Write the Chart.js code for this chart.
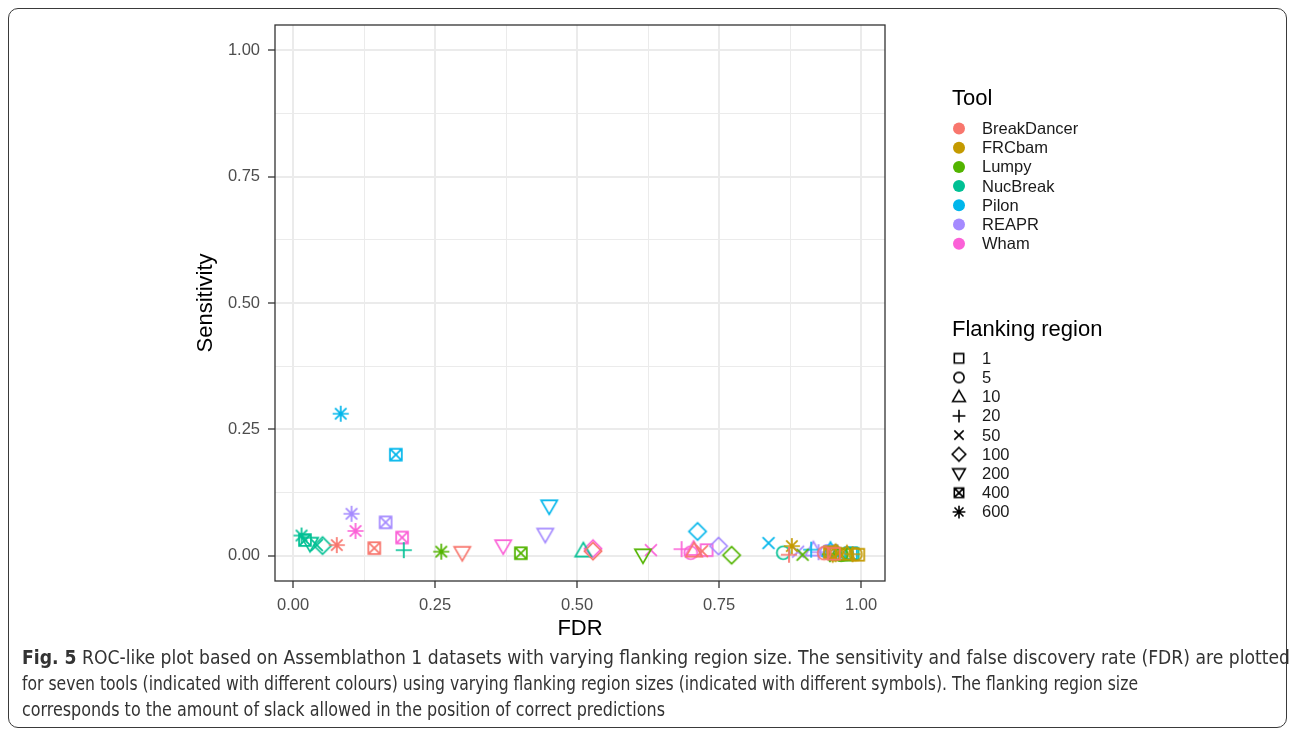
<!DOCTYPE html>
<html><head><meta charset="utf-8">
<script src="https://cdn.jsdelivr.net/npm/chart.js@4.4.1/dist/chart.umd.min.js"></script>
<style>
html,body{margin:0;padding:0;background:#fff;}
#wrap{position:relative;width:1295px;height:736px;overflow:hidden;background:#fff;}
#frame{position:absolute;left:8px;top:8px;width:1279px;height:720px;border:1.5px solid #3a3a3a;border-radius:10px;box-sizing:border-box;}
#c{position:absolute;left:0;top:0;}
.cap{position:absolute;left:22px;white-space:nowrap;font-family:"Liberation Sans Narrow","DejaVu Sans Condensed","Open Sans",sans-serif;font-size:19.5px;line-height:20px;color:#333;transform-origin:0 50%;}
.cap b{font-weight:bold;}
</style></head>
<body><div id="wrap">
<div id="frame"></div>
<canvas id="c" width="1295" height="736"></canvas>
<div class="cap" data-w="1268" style="top:648px"><b>Fig. 5</b> ROC-like plot based on Assemblathon 1 datasets with varying flanking region size. The sensitivity and false discovery rate (FDR) are plotted</div>
<div class="cap" data-w="1116" style="top:674px">for seven tools (indicated with different colours) using varying flanking region sizes (indicated with different symbols). The flanking region size</div>
<div class="cap" data-w="643" style="top:700px">corresponds to the amount of slack allowed in the position of correct predictions</div>
</div>
<script>
// ---------- data ----------
const tools = ['BreakDancer','FRCbam','Lumpy','NucBreak','Pilon','REAPR','Wham'];
const toolColors = ['#F8766D','#C49A00','#53B400','#00C094','#00B6EB','#A58AFF','#FB61D7'];
const flankSizes = ['1','5','10','20','50','100','200','400','600'];
const flankShapes = ['square','circle','triangle','plus','cross','diamond','triangleDown','squareCross','asterisk'];

const fdrBreakDancer  = [0.952, 0.935, 0.706, 0.873, 0.720, 0.528, 0.298, 0.143, 0.077];
const sensBreakDancer = [0.004, 0.005, 0.010, 0.002, 0.009, 0.009, 0.006, 0.015, 0.021];
const fdrFRCbam  = [0.995, 0.990, 0.975, 0.985, 0.960, 0.955, 0.950, 0.945, 0.878];
const sensFRCbam = [0.002, 0.003, 0.004, 0.003, 0.005, 0.006, 0.004, 0.007, 0.019];
const fdrLumpy  = [0.972, 0.965, 0.958, 0.945, 0.897, 0.772, 0.616, 0.401, 0.261];
const sensLumpy = [0.002, 0.002, 0.003, 0.003, 0.002, 0.001, 0.001, 0.005, 0.008];
const fdrNucBreak  = [0.985, 0.863, 0.511, 0.195, 0.042, 0.052, 0.030, 0.021, 0.015];
const sensNucBreak = [0.004, 0.006, 0.010, 0.011, 0.021, 0.020, 0.024, 0.031, 0.040];
const fdrPilon  = [0.982, 0.975, 0.946, 0.912, 0.837, 0.712, 0.451, 0.181, 0.084];
const sensPilon = [0.005, 0.004, 0.011, 0.012, 0.025, 0.048, 0.098, 0.200, 0.281];
const fdrREAPR  = [0.948, 0.940, 0.916, 0.925, 0.889, 0.749, 0.444, 0.163, 0.103];
const sensREAPR = [0.009, 0.008, 0.012, 0.007, 0.008, 0.019, 0.042, 0.066, 0.083];
const fdrWham  = [0.728, 0.700, 0.705, 0.684, 0.630, 0.528, 0.370, 0.192, 0.110];
const sensWham = [0.011, 0.006, 0.013, 0.013, 0.011, 0.014, 0.019, 0.036, 0.049];

const xTickValues = [0, 0.25, 0.5, 0.75, 1.0];
const xTickLabels = ['0.00','0.25','0.50','0.75','1.00'];
const yTickValues = [0, 0.25, 0.5, 0.75, 1.0];
const yTickLabels = ['0.00','0.25','0.50','0.75','1.00'];
const xTitle = 'FDR', yTitle = 'Sensitivity';
const legendTitle1 = 'Tool', legendTitle2 = 'Flanking region';

const fdrByTool = [fdrBreakDancer, fdrFRCbam, fdrLumpy, fdrNucBreak, fdrPilon, fdrREAPR, fdrWham];
const sensByTool = [sensBreakDancer, sensFRCbam, sensLumpy, sensNucBreak, sensPilon, sensREAPR, sensWham];

// ---------- symbols ----------
function makeSymbol(shape, color, k, lw) {
  const S = 28, m = S / 2;
  const c = document.createElement('canvas'); c.width = S; c.height = S;
  const g = c.getContext('2d');
  g.strokeStyle = color; g.lineWidth = lw; g.lineJoin = 'miter';
  g.beginPath();
  switch (shape) {
    case 'square': g.rect(m-5.5*k, m-5.5*k, 11*k, 11*k); break;
    case 'circle': g.arc(m, m, 6*k, 0, 2*Math.PI); break;
    case 'triangle': g.moveTo(m, m-7.5*k); g.lineTo(m+7.5*k, m+5.5*k); g.lineTo(m-7.5*k, m+5.5*k); g.closePath(); break;
    case 'plus': g.moveTo(m-7.5*k, m); g.lineTo(m+7.5*k, m); g.moveTo(m, m-7.5*k); g.lineTo(m, m+7.5*k); break;
    case 'cross': g.moveTo(m-5.5*k, m-5.5*k); g.lineTo(m+5.5*k, m+5.5*k); g.moveTo(m+5.5*k, m-5.5*k); g.lineTo(m-5.5*k, m+5.5*k); break;
    case 'diamond': g.moveTo(m, m-8*k); g.lineTo(m+8*k, m); g.lineTo(m, m+8*k); g.lineTo(m-8*k, m); g.closePath(); break;
    case 'triangleDown': g.moveTo(m-7.5*k, m-5.5*k); g.lineTo(m+7.5*k, m-5.5*k); g.lineTo(m, m+7.5*k); g.closePath(); break;
    case 'squareCross':
      g.rect(m-5.5*k, m-5.5*k, 11*k, 11*k);
      g.moveTo(m-5.5*k, m-5.5*k); g.lineTo(m+5.5*k, m+5.5*k); g.moveTo(m+5.5*k, m-5.5*k); g.lineTo(m-5.5*k, m+5.5*k); break;
    case 'asterisk':
      g.moveTo(m-7.5*k, m); g.lineTo(m+7.5*k, m); g.moveTo(m, m-7.5*k); g.lineTo(m, m+7.5*k);
      g.moveTo(m-5.3*k, m-5.3*k); g.lineTo(m+5.3*k, m+5.3*k); g.moveTo(m+5.3*k, m-5.3*k); g.lineTo(m-5.3*k, m+5.3*k); break;
  }
  g.stroke();
  return c;
}

const FONT = '"Liberation Sans", Arial, Helvetica, sans-serif';
Chart.defaults.font.family = FONT;

const datasets = tools.map((t, ti) => ({
  label: t,
  data: fdrByTool[ti].map((x, i) => ({ x: x, y: sensByTool[ti][i] })),
  pointStyle: flankShapes.map(s => makeSymbol(s, toolColors[ti], 1.08, 1.7)),
  pointRadius: 6,
  borderColor: toolColors[ti],
  backgroundColor: 'transparent',
  showLine: false
}));

const gridValues = [0, 0.125, 0.25, 0.375, 0.5, 0.625, 0.75, 0.875, 1.0];
function isMajor(v) { return Math.abs(v * 4 - Math.round(v * 4)) < 1e-9; }

const legendSymbols = flankShapes.map(s => makeSymbol(s, '#000', 0.85, 1.6));

const legendPlugin = {
  id: 'ggLegend',
  afterDraw(chart) {
    const ctx = chart.ctx;
    ctx.save();
    ctx.fillStyle = '#000';
    ctx.textBaseline = 'alphabetic';
    ctx.textAlign = 'left';
    ctx.font = '22px ' + FONT;
    ctx.fillText(legendTitle1, 952, 105);
    ctx.font = '16.5px ' + FONT;
    ctx.textBaseline = 'middle';
    tools.forEach((t, i) => {
      const y = 128.5 + i * 19.2;
      ctx.fillStyle = toolColors[i];
      ctx.beginPath(); ctx.arc(959, y, 6, 0, 2 * Math.PI); ctx.fill();
      ctx.fillStyle = '#1a1a1a';
      ctx.fillText(t, 982, y + 1);
    });
    ctx.textBaseline = 'alphabetic';
    ctx.fillStyle = '#000';
    ctx.font = '22px ' + FONT;
    ctx.fillText(legendTitle2, 952, 336);
    ctx.font = '16.5px ' + FONT;
    ctx.textBaseline = 'middle';
    flankSizes.forEach((f, i) => {
      const y = 358.3 + i * 19.2;
      const img = legendSymbols[i];
      ctx.drawImage(img, 959 - img.width / 2, y - img.height / 2);
      ctx.fillStyle = '#1a1a1a';
      ctx.fillText(f, 982, y + 1);
    });
    ctx.restore();
  }
};

const borderPlugin = {
  id: 'panelBorder',
  afterDatasetsDraw(chart) {
    const a = chart.chartArea, ctx = chart.ctx;
    ctx.save();
    ctx.strokeStyle = '#333';
    ctx.lineWidth = 1.3;
    ctx.strokeRect(a.left, a.top, a.right - a.left, a.bottom - a.top);
    ctx.restore();
  }
};

function gridOpts() {
  return {
    drawOnChartArea: true,
    drawTicks: true,
    tickLength: 7,
    color: c => '#EBEBEB',
    lineWidth: c => (c.tick && isMajor(c.tick.value)) ? 2 : 1,
    tickColor: c => (c.tick && isMajor(c.tick.value)) ? '#333' : 'rgba(0,0,0,0)',
    tickWidth: 1.3
  };
}

new Chart(document.getElementById('c'), {
  type: 'scatter',
  data: { datasets: datasets },
  options: {
    responsive: false,
    animation: false,
    events: [],
    layout: { padding: { left: 180, top: 25, right: 410, bottom: 75 } },
    plugins: { legend: { display: false }, tooltip: { enabled: false } },
    scales: {
      x: {
        type: 'linear',
        min: -0.0317, max: 1.042,
        afterBuildTicks: s => { s.ticks = gridValues.map(v => ({ value: v })); },
        afterFit: s => { s.height = 80; },
        border: { display: false },
        grid: gridOpts(),
        ticks: {
          autoSkip: false, maxRotation: 0, padding: 8,
          color: '#4D4D4D', font: { size: 16.5 },
          callback: v => { const i = xTickValues.findIndex(t => Math.abs(t - v) < 1e-9); return i >= 0 ? xTickLabels[i] : ''; }
        },
        title: { display: true, text: xTitle, color: '#000', font: { size: 22 }, padding: { top: 0, bottom: 19 } }
      },
      y: {
        type: 'linear',
        min: -0.05, max: 1.05,
        afterBuildTicks: s => { s.ticks = gridValues.map(v => ({ value: v })); },
        afterFit: s => { s.width = 95; },
        border: { display: false },
        grid: gridOpts(),
        ticks: {
          autoSkip: false, padding: 8,
          color: '#4D4D4D', font: { size: 16.5 },
          callback: v => { const i = yTickValues.findIndex(t => Math.abs(t - v) < 1e-9); return i >= 0 ? yTickLabels[i] : ''; }
        },
        title: { display: true, text: yTitle, color: '#000', font: { size: 22 }, padding: { top: 13, bottom: 0 } }
      }
    }
  },
  plugins: [legendPlugin, borderPlugin]
});

// fit caption lines to the reference widths
document.querySelectorAll('.cap').forEach(el => {
  const w = el.getBoundingClientRect().width;
  const target = parseFloat(el.dataset.w);
  el.style.transform = 'scaleX(' + (target / w) + ')';
});
</script>
</body></html>
